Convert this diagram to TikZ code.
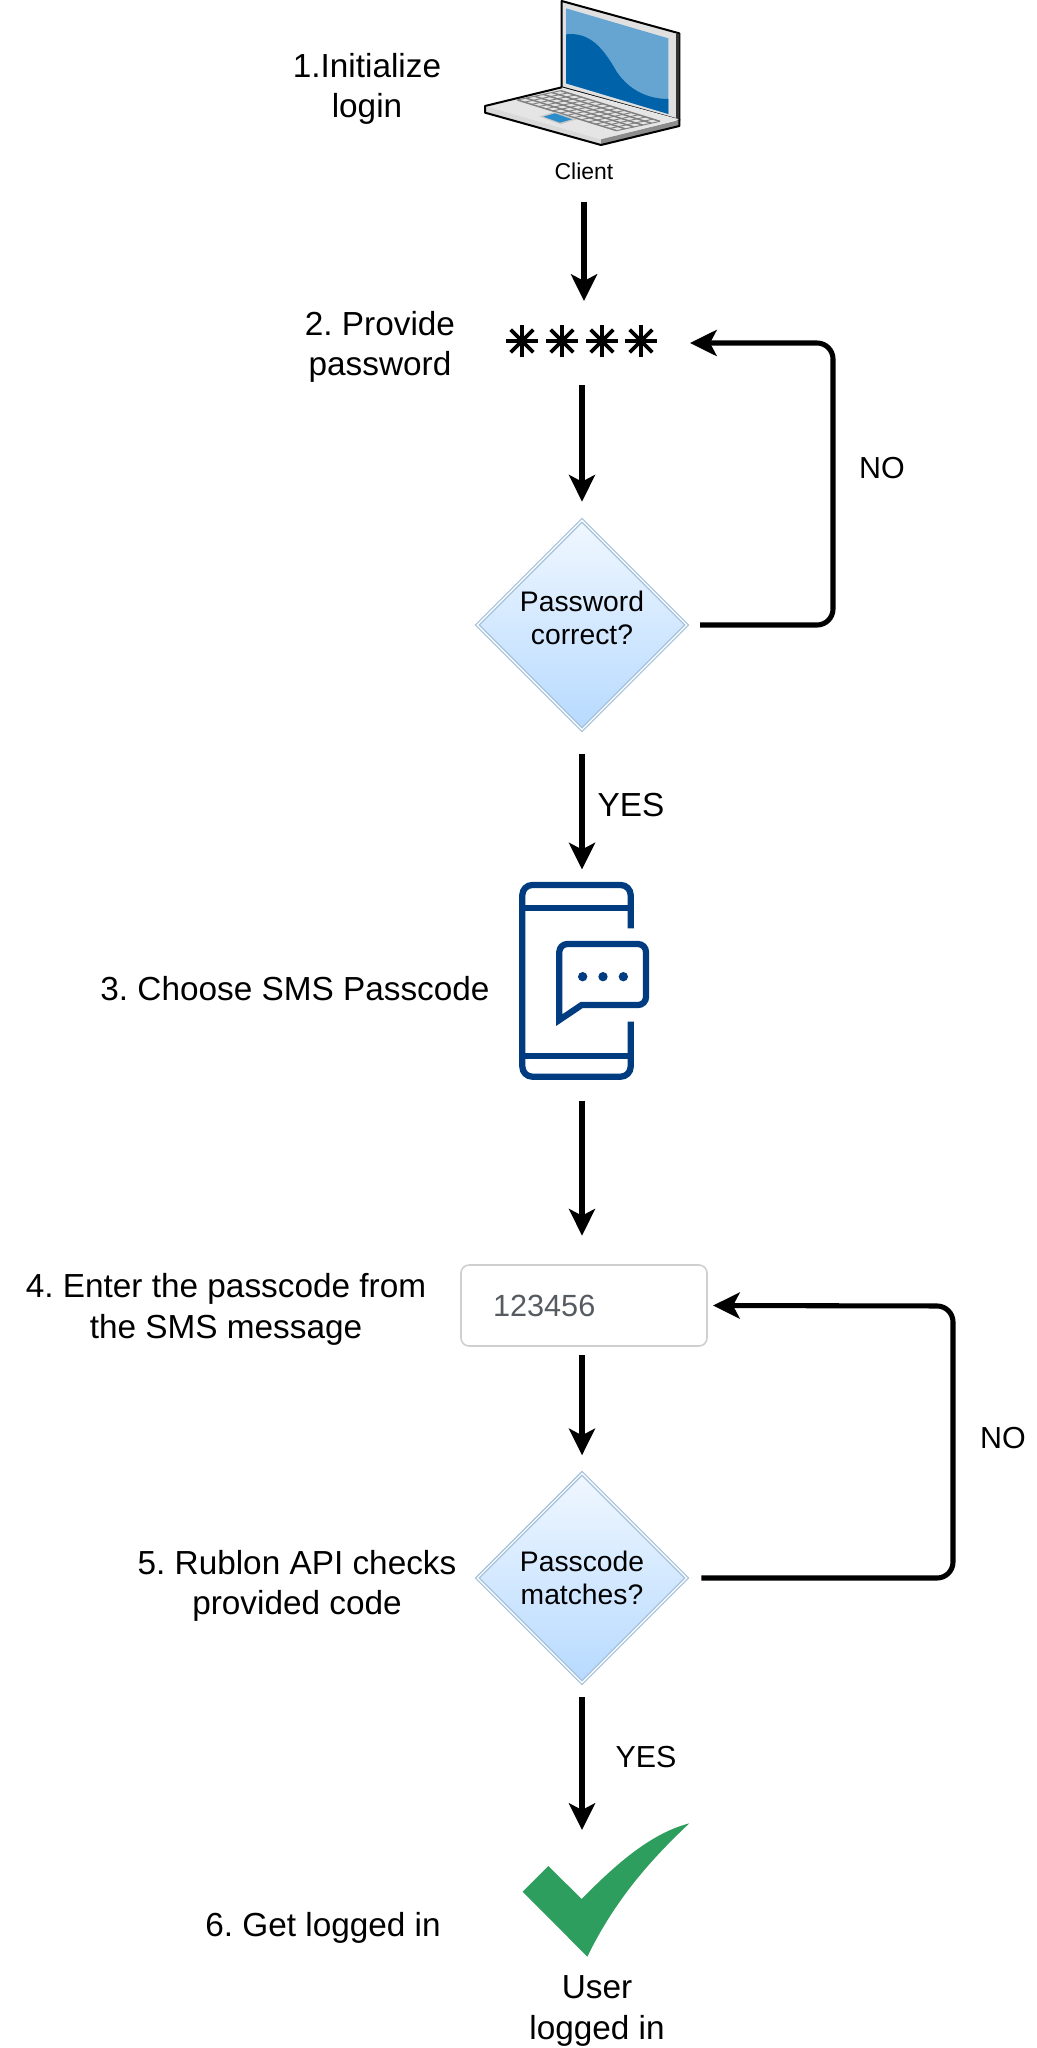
\documentclass[tikz,border=0pt]{standalone}
\usepackage{fontspec}
\setmainfont{Liberation Sans}
\frenchspacing
\usetikzlibrary{arrows.meta}
\usetikzlibrary{shapes.geometric}

\definecolor{rimblue}{HTML}{A6C3DC}
\definecolor{topblue}{HTML}{F0F7FF}
\definecolor{lowblue}{HTML}{B7DAFF}
\definecolor{phoneblue}{HTML}{013B80}
\definecolor{checkgreen}{HTML}{2E9E5E}
\definecolor{screenpale}{HTML}{66A5D2}
\definecolor{screendark}{HTML}{0063AA}
\definecolor{padblue}{HTML}{2A8CC8}
\definecolor{digitgray}{HTML}{555B60}
\definecolor{fieldgray}{HTML}{CFCFCF}

\begin{document}
\begin{tikzpicture}[x=0.75pt,y=-0.75pt,inner sep=0pt,outer sep=0pt,
>={Stealth[length=20pt,width=19.5pt,inset=5pt]},
flow/.style={->,line width=3.8pt},
note/.style={align=center,font=\fontsize{25}{30.4}\selectfont},
tag/.style={font=\fontsize{22.8}{27}\selectfont},
decision/.style={draw=rimblue,double=white,double distance=0.9pt,line width=1pt,diamond,aspect=1,minimum width=157pt,minimum height=157pt,top color=topblue,bottom color=lowblue,align=center,font=\fontsize{21.2}{25}\selectfont},
iconbox/.style={rectangle,minimum width=162pt},
codebox/.style={draw=fieldgray,line width=1.2pt,rectangle,rounded corners=6pt,text width=136.5pt,inner xsep=24pt,minimum height=60.75pt,align=left,text=digitgray,font=\fontsize{23}{27}\selectfont}]

\useasboundingbox (0,0) rectangle (1037,2048);

\begin{scope}[shift={(440,0)},x=0.25pt,y=-0.25pt]
\filldraw[fill=black!12,line width=1.5pt,line join=round] (365,3) -- (718,100) -- (718,360) -- (365,262) -- cycle;
\fill[black!80] (708,102) -- (718,102) -- (718,360) -- (708,358) -- cycle;
\fill[screenpale] (378,25) -- (685,115) -- (685,342) -- (378,250) -- cycle;
\fill[screendark] (378,103) .. controls (450,95) and (490,145) .. (530,215) .. controls (570,275) and (630,297) .. (685,297) -- (685,342) -- (378,250) -- cycle;
\fill[black!10] (135,318) -- (365,262) -- (718,358) -- (483,418) -- cycle;
\fill[black!15] (135,318) -- (483,418) -- (483,435) -- (135,338) -- cycle;
\fill[black!45] (483,418) -- (718,360) -- (718,378) -- (483,435) -- cycle;
\draw[line width=1.5pt,line join=round] (365,262) -- (135,318) -- (135,338) -- (483,435) -- (718,378) -- (718,358);
\foreach \r in {0,0.2,0.4,0.6,0.8,1}
  \draw[black!50,line width=1.1pt] (232+130*\r,300-28*\r) -- (530+130*\r,392-28*\r);
\foreach \c in {0,...,14}
  \draw[black!50,line width=0.7pt] (232+298*\c/14,300+92*\c/14) -- (362+298*\c/14,272+92*\c/14);
\fill[black!22] (298,349) -- (345,336) -- (410,358) -- (362,373) -- cycle;
\fill[padblue] (310,350) -- (345,340) -- (396,358) -- (360,368) -- cycle;
\end{scope}

\draw (584,171) node[iconbox,minimum height=46.5pt,font=\fontsize{17.2}{21}\selectfont] (client) {Client};
\draw (582,343) node[iconbox,minimum height=63pt] (stars) {};
\foreach \x in {522,562,602,641}
  \foreach \a in {0,45,90,135}
    \draw[line width=2.9pt] (\x,341) ++(\a:16) -- ++(\a+180:32);
\draw (582,625) node[decision] (pwcheck) {Password\\correct?\\[-14.5pt]\mbox{}};
\draw (582,985) node[iconbox,minimum height=173.25pt] (phone) {};
\draw (584,1305.5) node[codebox] (field) {123456};
\draw (582,1578) node[decision] (codecheck) {Passcode\\matches?};
\coordinate (noturn) at (833,343);
\coordinate (noturnb) at (953,1306);
\coordinate (tick) at (582,1830);

\begin{scope}[shift={(490,860)},x=0.25pt,y=-0.25pt,phoneblue,line width=4.7pt]
\draw[rounded corners=7.5pt] (422,205) -- (422,75) -- (97,75) -- (97,650) -- (422,650) -- (422,485);
\draw (97,145) -- (422,145);
\draw (97,587) -- (422,587);
\draw[miter limit=6] (208,480) [rounded corners=6pt] -- (208,252) -- (468,252) -- (468,435) [sharp corners] -- (275,435) -- cycle;
\foreach \x in {278,339,400}
  \fill (\x,350) circle (14);
\end{scope}

\begin{scope}[shift={(500,1800)},x=0.25pt,y=-0.25pt]
\fill[checkgreen] (68,275) -- (145,198) -- (245,297) .. controls (340,200) and (450,100) .. (568,70) .. controls (440,190) and (340,310) .. (262,470) -- cycle;
\end{scope}

\draw (367,89) node[note] (initlabel) {1.Initialize\\login};
\draw (380,347) node[note] (pwlabel) {2. Provide\\password};
\draw (295,989) node[note] (smslabel) {3. Choose SMS Passcode};
\draw (226,1309.5) node[note] (enterlabel) {4. Enter the passcode from\\the SMS message};
\draw (297,1586) node[note] (apilabel) {5. Rublon API checks\\provided code};
\draw (323,1928) node[note] (donelabel) {6. Get logged in};
\draw (597,2011) node[note] (userlabel) {User\\logged in};
\draw (882,468) node[tag] (nolabel) {NO};
\draw (631,805) node[note] (yeslabel) {YES};
\draw (1003,1438) node[tag] (nolabelb) {NO};
\draw (646,1757) node[tag] (yeslabelb) {YES};

\draw[flow] (client.south) -- ([xshift=1.5pt]stars.north);
\draw[flow,shorten >=14pt] (stars.south) -- (pwcheck.north);
\draw[flow,rounded corners=12pt,shorten <=10pt] (pwcheck.east) -| (noturn) -- (stars.east);
\draw[flow,shorten <=18pt] (pwcheck.south) -- (phone.north);
\draw[flow,shorten >=22pt] (phone.south) -- (phone.south |- field.north);
\draw[flow,shorten <=7pt,shorten >=13.5pt] (field.south -| codecheck.north) -- (codecheck.north);
\draw[flow,rounded corners=12pt,shorten <=11pt,shorten >=4.5pt] (codecheck.east) -| (noturnb) -- (field.east);
\draw[flow,shorten <=11pt] (codecheck.south) -- (tick);

\end{tikzpicture}
\end{document}
